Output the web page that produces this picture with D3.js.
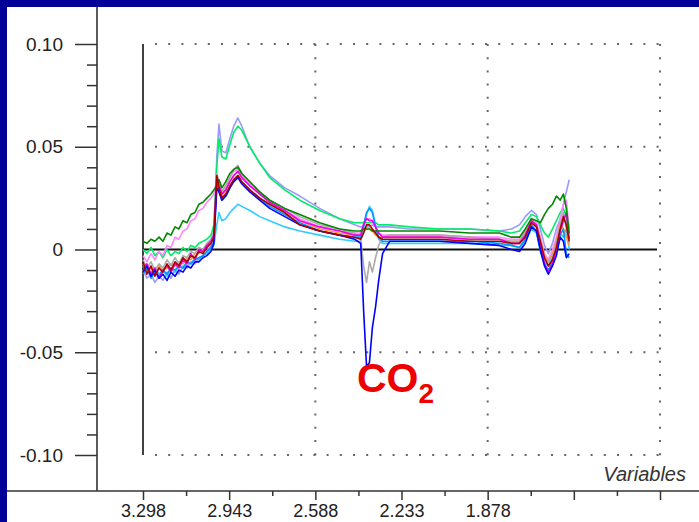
<!DOCTYPE html>
<html><head><meta charset="utf-8">
<script src="https://cdn.jsdelivr.net/npm/d3@7"></script>
<style>html,body{margin:0;padding:0;background:#fff;overflow:hidden;} svg{display:block;}</style>
</head><body>
<svg id="c" width="699" height="522"></svg>
<script>
// ---------- DATA ----------
const wavenumbers = [3.298,3.282,3.265,3.249,3.232,3.216,3.199,3.183,3.166,3.150,3.133,3.117,3.101,3.084,3.068,3.051,3.035,3.018,
  3.006,2.994,2.985,2.973,2.957,2.940,2.924,2.907,2.891,2.858,2.817,2.776,2.714,2.652,2.570,2.488,2.426,2.401,2.389,2.377,
  2.365,2.353,2.340,2.327,2.311,2.282,2.200,2.076,1.953,1.830,1.780,1.747,1.723,1.698,1.677,1.661,1.644,1.628,1.611,1.595,
  1.579,1.566,1.554,1.542];

const lavender = [-0.010,-0.014,-0.012,-0.016,-0.013,-0.015,-0.011,-0.014,-0.010,-0.012,-0.008,-0.009,-0.006,-0.007,-0.004,-0.003,-0.001,0.002,
  0.008,0.045,0.061,0.048,0.047,0.054,0.060,0.064,0.060,0.050,0.042,0.036,0.030,0.026,0.020,0.015,0.012,0.011,0.011,0.011,
  0.011,0.012,0.011,0.011,0.011,0.011,0.010,0.010,0.010,0.009,0.010,0.012,0.016,0.019,0.017,0.010,0.002,-0.002,0.003,0.010,
  0.015,0.022,0.028,0.034];
const brightGreen = [0.000,-0.002,0.001,-0.003,-0.001,-0.004,0.000,-0.003,-0.001,-0.002,0.001,-0.001,0.002,0.001,0.003,0.004,0.005,0.007,
  0.012,0.040,0.054,0.045,0.044,0.051,0.057,0.060,0.058,0.050,0.042,0.035,0.029,0.024,0.019,0.015,0.013,0.013,0.013,0.013,
  0.013,0.013,0.013,0.012,0.012,0.012,0.011,0.010,0.010,0.009,0.008,0.009,0.013,0.017,0.016,0.012,0.008,0.006,0.010,0.014,
  0.018,0.020,0.016,0.006];
const skyBlue = [-0.008,-0.010,-0.011,-0.009,-0.012,-0.010,-0.013,-0.009,-0.011,-0.008,-0.009,-0.006,-0.007,-0.004,-0.005,-0.003,-0.002,0.000,
  0.002,0.012,0.018,0.014,0.015,0.018,0.020,0.022,0.021,0.019,0.016,0.014,0.011,0.009,0.007,0.005,0.004,0.004,0.010,0.017,
  0.021,0.019,0.012,0.005,0.003,0.003,0.003,0.003,0.003,0.002,0.002,0.001,0.004,0.010,0.008,0.000,-0.006,-0.008,-0.004,0.000,
  0.008,0.006,0.010,0.000];
const pink = [-0.003,-0.006,-0.002,-0.005,-0.001,-0.003,0.002,0.001,0.006,0.005,0.009,0.010,0.014,0.015,0.019,0.020,0.023,0.025,
  0.027,0.033,0.032,0.028,0.031,0.035,0.038,0.039,0.036,0.032,0.027,0.023,0.019,0.015,0.011,0.009,0.008,0.008,0.013,0.015,
  0.015,0.014,0.011,0.008,0.007,0.007,0.007,0.007,0.006,0.006,0.005,0.005,0.009,0.015,0.013,0.006,-0.002,-0.005,0.000,0.006,
  0.015,0.022,0.024,0.010];
const orange = [-0.007,-0.010,-0.009,-0.012,-0.008,-0.010,-0.009,-0.007,-0.008,-0.006,-0.007,-0.004,-0.005,-0.002,-0.002,0.000,0.002,0.004,
  0.007,0.034,0.031,0.026,0.029,0.033,0.036,0.038,0.035,0.031,0.027,0.023,0.018,0.014,0.010,0.008,0.007,0.007,0.009,0.010,
  0.010,0.009,0.007,0.006,0.006,0.006,0.006,0.006,0.005,0.005,0.004,0.004,0.008,0.014,0.012,0.005,-0.003,-0.006,-0.002,0.004,
  0.013,0.010,0.006,0.002];
const grey = [-0.005,-0.009,-0.006,-0.010,-0.007,-0.009,-0.005,-0.008,-0.004,-0.007,-0.003,-0.004,-0.001,-0.002,0.001,0.000,0.003,0.005,
  0.009,0.037,0.033,0.028,0.031,0.035,0.039,0.041,0.037,0.033,0.028,0.024,0.020,0.016,0.012,0.010,0.008,0.005,-0.008,-0.016,
  -0.006,-0.011,-0.004,0.002,0.006,0.007,0.007,0.007,0.006,0.005,0.004,0.004,0.008,0.014,0.011,0.004,-0.004,-0.006,-0.003,0.003,
  0.012,0.018,0.010,0.003];
const dodgerBlue = [-0.012,-0.009,-0.014,-0.011,-0.013,-0.010,-0.012,-0.009,-0.010,-0.008,-0.009,-0.006,-0.007,-0.005,-0.004,-0.003,-0.001,0.001,
  0.004,0.031,0.029,0.024,0.026,0.030,0.034,0.036,0.033,0.029,0.025,0.021,0.017,0.013,0.009,0.007,0.006,0.006,0.012,0.018,
  0.020,0.018,0.011,0.006,0.004,0.004,0.004,0.004,0.004,0.003,0.002,0.001,0.005,0.012,0.009,-0.001,-0.007,-0.010,-0.006,-0.001,
  0.007,0.010,-0.002,-0.004];
const magenta = [-0.009,-0.007,-0.012,-0.009,-0.014,-0.010,-0.008,-0.011,-0.007,-0.009,-0.005,-0.007,-0.002,-0.005,0.000,-0.001,0.002,0.004,
  0.007,0.035,0.031,0.027,0.029,0.033,0.036,0.038,0.035,0.031,0.027,0.023,0.019,0.014,0.011,0.009,0.007,0.007,0.012,0.015,
  0.014,0.014,0.011,0.008,0.006,0.006,0.006,0.006,0.005,0.005,0.003,0.003,0.007,0.014,0.012,0.003,-0.007,-0.011,-0.007,0.000,
  0.009,0.014,0.018,0.005];
const darkGreen = [0.004,0.003,0.005,0.004,0.006,0.004,0.008,0.007,0.011,0.010,0.014,0.013,0.017,0.018,0.022,0.023,0.025,0.027,
  0.029,0.031,0.034,0.030,0.033,0.037,0.039,0.040,0.037,0.033,0.028,0.024,0.020,0.017,0.013,0.010,0.009,0.009,0.010,0.010,
  0.010,0.009,0.009,0.009,0.009,0.009,0.009,0.009,0.008,0.008,0.006,0.006,0.010,0.015,0.014,0.013,0.017,0.020,0.022,0.026,
  0.024,0.027,0.020,0.008];
const blue = [-0.011,-0.008,-0.013,-0.010,-0.014,-0.012,-0.015,-0.011,-0.013,-0.010,-0.011,-0.008,-0.009,-0.006,-0.006,-0.004,-0.003,-0.001,
  0.003,0.030,0.028,0.024,0.026,0.030,0.033,0.035,0.032,0.028,0.024,0.020,0.016,0.012,0.009,0.007,0.005,0.003,-0.030,-0.057,
  -0.055,-0.038,-0.028,-0.015,-0.002,0.004,0.004,0.004,0.003,0.002,0.000,-0.001,0.003,0.011,0.009,0.000,-0.008,-0.012,-0.008,-0.003,
  0.006,0.004,-0.004,-0.002];
const darkRed = [-0.006,-0.012,-0.008,-0.013,-0.009,-0.011,-0.007,-0.010,-0.006,-0.008,-0.004,-0.006,-0.003,-0.004,-0.001,-0.002,0.001,0.003,
  0.006,0.036,0.030,0.025,0.027,0.031,0.034,0.036,0.033,0.029,0.025,0.022,0.018,0.012,0.009,0.007,0.006,0.005,0.008,0.012,
  0.012,0.010,0.008,0.006,0.005,0.005,0.005,0.005,0.004,0.004,0.003,0.003,0.006,0.013,0.011,0.004,-0.004,-0.008,-0.005,0.001,
  0.010,0.016,0.012,0.004];

const seriesList = [lavender, brightGreen, skyBlue, pink, orange, grey, dodgerBlue, magenta, darkGreen, blue, darkRed];
const seriesColors = ["#9999ff","#00ee66","#33ccff","#ff88ff","#ff9933","#aaaaaa","#0099ff","#ee00ee","#008800","#0000ff","#aa0000"];

const xTickValues = [3.298, 2.943, 2.588, 2.233, 1.878, 1.523, 1.168];
const xTickLabels = ["3.298", "2.943", "2.588", "2.233", "1.878", "", ""];
const xMinorTicks = [3.1205, 2.7655, 2.4105, 2.0555, 1.7005, 1.3455];
const yTickValues = [0.10, 0.05, 0, -0.05, -0.10];
const yTickLabels = ["0.10", "0.05", "0", "-0.05", "-0.10"];
const gridY = [0.10, 0.05, -0.05, -0.10];
const gridX = [2.588, 1.878, 1.168];

// ---------- DRAW ----------
const svg = d3.select("#c");
const x = d3.scaleLinear().domain([3.298, 1.168]).range([143, 660]);
const y = d3.scaleLinear().domain([-0.10, 0.10]).range([455, 44]);
const FONT = "Arial, 'Liberation Sans', sans-serif";

// left value axis
const yAxis = d3.axisLeft(y).tickValues(yTickValues).tickSize(22).tickPadding(12)
  .tickFormat((d, i) => yTickLabels[i]);
const gy = svg.append("g").attr("transform", "translate(97,0)").call(yAxis);
gy.select(".domain").remove();
gy.selectAll(".tick line").attr("stroke", "#333").attr("stroke-width", 1.5);
gy.selectAll(".tick text").attr("font-family", FONT).attr("font-size", 19).attr("fill", "#222");
const yMinor = d3.range(-10, 11).map(v => v / 100).filter(v => Math.abs(v * 100) % 5 !== 0);
svg.append("g").attr("transform", "translate(97,0)")
  .call(d3.axisLeft(y).tickValues(yMinor).tickSize(10).tickFormat(""))
  .call(g => g.select(".domain").remove())
  .selectAll(".tick line").attr("stroke", "#333").attr("stroke-width", 1.5);
svg.append("line").attr("x1", 97).attr("x2", 97).attr("y1", 7).attr("y2", 491)
  .attr("stroke", "#333").attr("stroke-width", 1.6);

// bottom variable axis
const xAxis = d3.axisBottom(x).tickValues(xTickValues).tickSize(9).tickPadding(4)
  .tickFormat((d, i) => xTickLabels[i]);
const gx = svg.append("g").attr("transform", "translate(0,491)").call(xAxis);
gx.select(".domain").remove();
gx.selectAll(".tick line").attr("stroke", "#333").attr("stroke-width", 1.5);
gx.selectAll(".tick text").attr("font-family", FONT).attr("font-size", 18).attr("fill", "#222");
svg.append("g").attr("transform", "translate(0,491)")
  .call(d3.axisBottom(x).tickValues(xMinorTicks).tickSize(5).tickFormat(""))
  .call(g => g.select(".domain").remove())
  .selectAll(".tick line").attr("stroke", "#333").attr("stroke-width", 1.5);
svg.append("line").attr("x1", 0).attr("x2", 699).attr("y1", 491).attr("y2", 491)
  .attr("stroke", "#333").attr("stroke-width", 1.6);

// dotted grid
svg.append("g").selectAll("line").data(gridY).join("line")
  .attr("x1", x(3.298) + 12).attr("x2", x(1.168) + 1).attr("y1", d => y(d)).attr("y2", d => y(d))
  .attr("stroke", "#666").attr("stroke-width", 2).attr("stroke-dasharray", "2,11.2");
svg.append("g").selectAll("line").data(gridX).join("line")
  .attr("x1", d => x(d)).attr("x2", d => x(d)).attr("y1", y(0.10)).attr("y2", y(-0.10) + 1)
  .attr("stroke", "#666").attr("stroke-width", 2).attr("stroke-dasharray", "2,11.2");

// frame lines
svg.append("line").attr("x1", x(3.298)).attr("x2", x(3.298)).attr("y1", y(0.10)).attr("y2", y(-0.10))
  .attr("stroke", "#111").attr("stroke-width", 1.6);
svg.append("line").attr("x1", x(3.298)).attr("x2", x(1.168) - 3).attr("y1", y(0)).attr("y2", y(0))
  .attr("stroke", "#111").attr("stroke-width", 1.8);

// spectra
const line = d3.line().x((d, i) => x(wavenumbers[i])).y(d => y(d)).curve(d3.curveLinear);
svg.append("g").selectAll("path").data(seriesList).join("path")
  .attr("d", d => line(d)).attr("fill", "none")
  .attr("stroke", (d, i) => seriesColors[i]).attr("stroke-width", 1.6).attr("stroke-linejoin", "round");

// labels
svg.append("text").attr("x", 686).attr("y", 481).attr("text-anchor", "end")
  .attr("font-family", FONT).attr("font-style", "italic").attr("font-size", 20).attr("fill", "#333")
  .text("Variables");
const co2 = svg.append("text").attr("x", 357).attr("y", 392)
  .attr("font-family", FONT).attr("font-weight", "bold").attr("font-size", 41).attr("fill", "#ee0000");
co2.append("tspan").text("CO");
co2.append("tspan").attr("font-size", 28).attr("dy", 11).text("2");

// border
svg.append("rect").attr("x", 0).attr("y", 0).attr("width", 7).attr("height", 522).attr("fill", "#000099");
svg.append("rect").attr("x", 0).attr("y", 0).attr("width", 699).attr("height", 7).attr("fill", "#000099");
</script>
</body></html>
